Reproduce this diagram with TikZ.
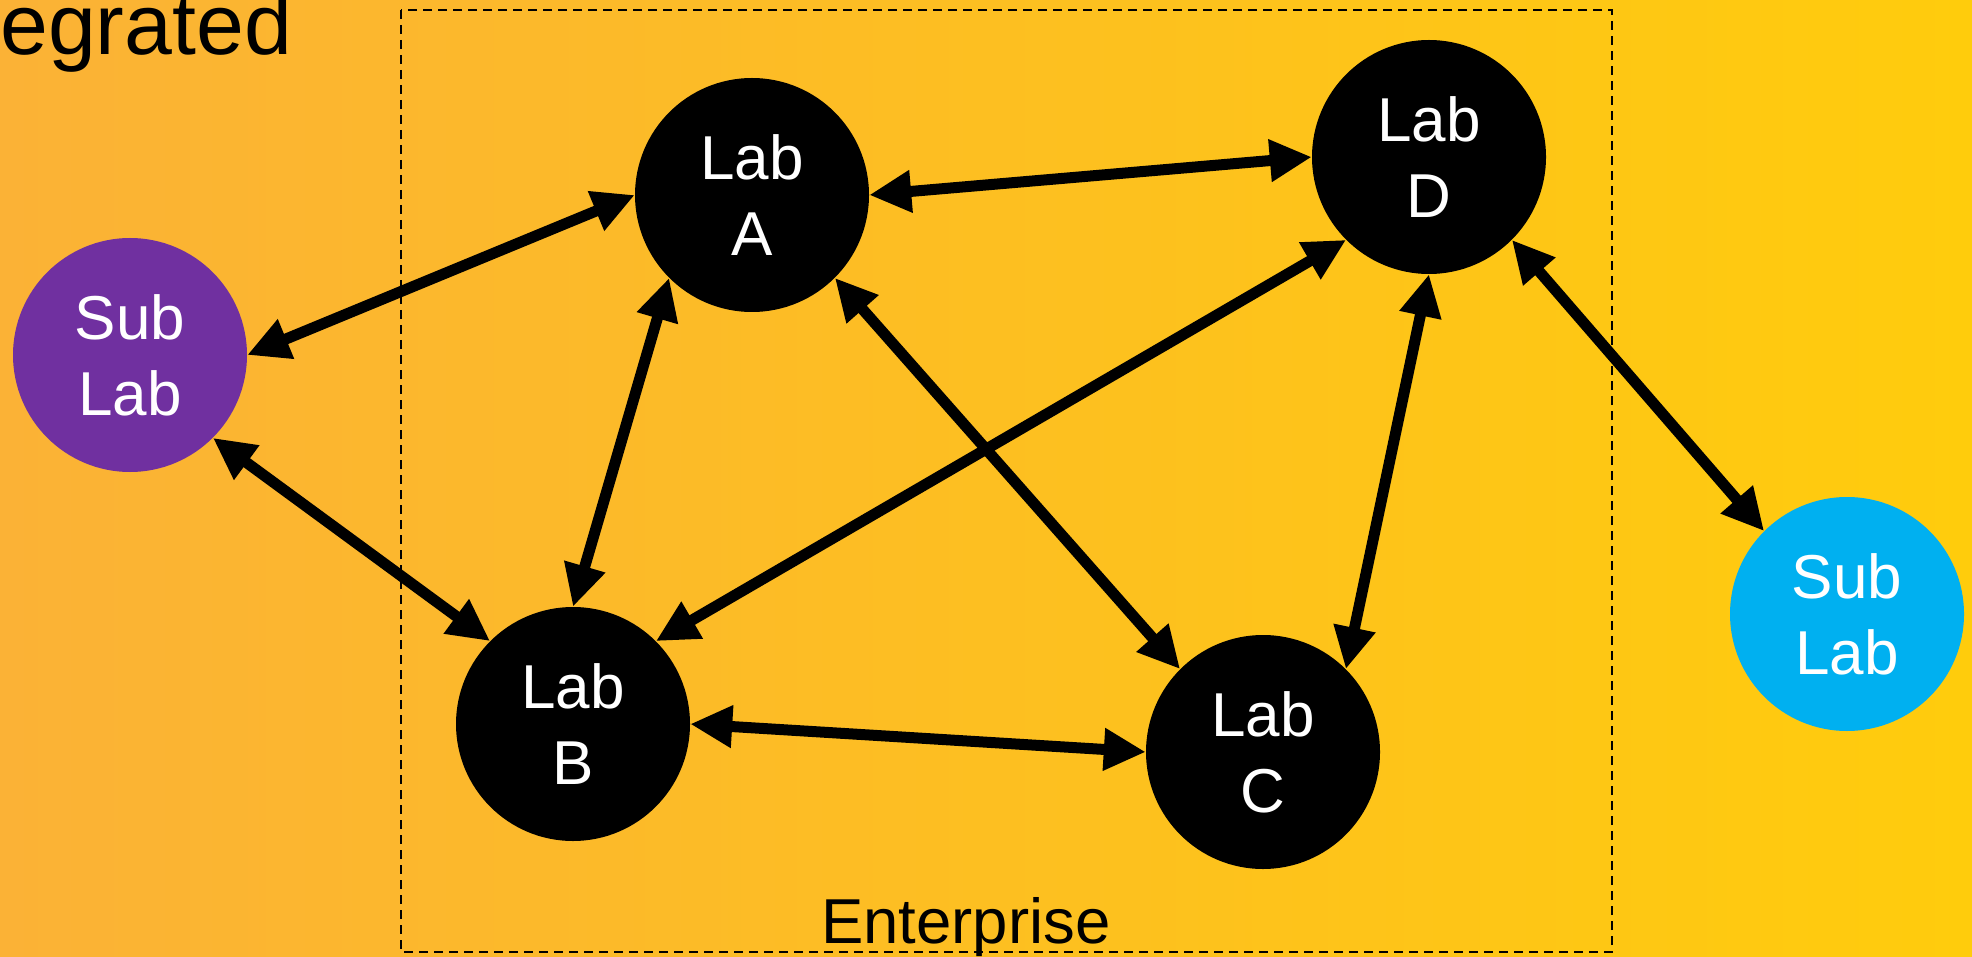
\documentclass[tikz,border=0pt]{standalone}
\usepackage{fontspec}
\setmainfont{Liberation Sans}
\usetikzlibrary{arrows.meta}

\definecolor{bgleft}{RGB}{251,178,54}
\definecolor{bgright}{RGB}{255,204,12}
\definecolor{sublabpurple}{RGB}{112,48,160}
\definecolor{sublabblue}{RGB}{0,176,240}

\begin{document}
\begin{tikzpicture}[x=1pt,y=-1pt]
\tikzstyle{lab}=[circle, minimum size=234pt, inner sep=0pt, fill=black, text=white, align=center, font=\fontsize{62}{76}\selectfont]
\tikzstyle{link}=[{Triangle[length=42pt,width=40pt]}-{Triangle[length=42pt,width=40pt]}, line width=11pt]
\tikzstyle{frame}=[line width=2.5pt, dash pattern=on 9pt off 6pt]
\useasboundingbox (0,0) rectangle (1972,957);
\shade[left color=bgleft, right color=bgright] (0,0) rectangle (1972,957);
\draw[frame] (401,10) rectangle (1612,952);
\node[anchor=base west, inner sep=0pt, font=\fontsize{86}{100}\selectfont] (title) at (0,55) {egrated};
\node[anchor=base west, inner sep=0pt, font=\fontsize{63.5}{74}\selectfont] (ent) at (821,943) {Enterprise};
% labs
\node[lab, fill=sublabpurple] (P) at (130,355) {Sub\\Lab};
\node[lab] (A) at (752,195) {Lab\\A};
\node[lab] (D) at (1429,157) {Lab\\D};
\node[lab] (B) at (573,724) {Lab\\B};
\node[lab] (C) at (1263,752) {Lab\\C};
\node[lab, fill=sublabblue] (S) at (1847,614) {Sub\\Lab};
\foreach \from/\to in {P.east/A.west, P.-45/B.135, A.east/D.west, A.-135/B.north, A.-45/C.135, D.-135/B.45, D.south/C.45, B.east/C.west, D.-45/S.135}
       {
        \path (\from) edge[link] (\to);
       }
\end{tikzpicture}
\end{document}
